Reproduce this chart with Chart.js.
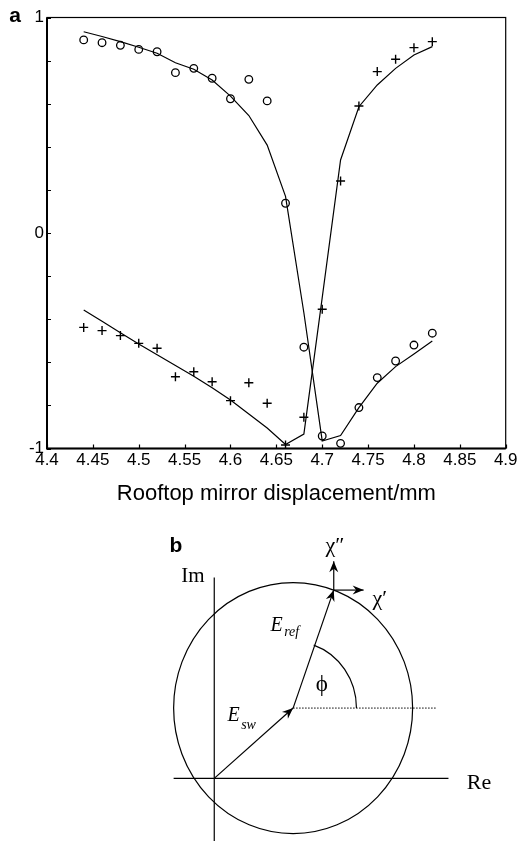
<!DOCTYPE html>
<html>
<head>
<meta charset="utf-8">
<script src="https://cdn.jsdelivr.net/npm/chart.js@4.4.1/dist/chart.umd.min.js"></script>
<style>
  html, body { margin: 0; padding: 0; background: #fff; }
  #wrap { position: relative; width: 521px; height: 841px; }
  #chartA { position: absolute; left: 0; top: 0; }
  #chartB { position: absolute; left: 0; top: 510px; }
</style>
</head>
<body>
<div id="wrap">
  <canvas id="chartA" width="521" height="510"></canvas>
  <canvas id="chartB" width="521" height="331"></canvas>
</div>
<script>
// ---- panel a data ----
const displacement = [4.44, 4.46, 4.48, 4.50, 4.52, 4.54, 4.56, 4.58, 4.60, 4.62,
                      4.64, 4.66, 4.68, 4.70, 4.72, 4.74, 4.76, 4.78, 4.80, 4.82];
const circleMeasured = [0.896, 0.883, 0.871, 0.852, 0.841, 0.744, 0.764, 0.718, 0.623, 0.713,
                        0.613, 0.138, -0.530, -0.942, -0.976, -0.810, -0.671, -0.594, -0.520, -0.465];
const plusMeasured = [-0.438, -0.453, -0.476, -0.512, -0.535, -0.667, -0.644, -0.690, -0.778, -0.695,
                      -0.790, -0.984, -0.855, -0.354, 0.241, 0.589, 0.749, 0.806, 0.860, 0.888];
const circleFit = [0.934, 0.912, 0.888, 0.862, 0.834, 0.790, 0.760, 0.710, 0.635, 0.545,
                   0.408, 0.170, -0.370, -0.965, -0.940, -0.810, -0.697, -0.620, -0.561, -0.501];
const plusFit = [-0.357, -0.410, -0.463, -0.515, -0.565, -0.615, -0.665, -0.718, -0.775, -0.840,
                 -0.905, -0.981, -0.933, -0.300, 0.339, 0.586, 0.687, 0.764, 0.826, 0.865];
const yLabelled = [-1, 0, 1];

// ---- panel b diagram (phasor units, |E_ref| = 1) ----
const origin = [0, 0];
const eSwTip = [0.66, 0.56];
const eRefTip = [1.0, 1.5];
const chiImTip = [1.0, 1.73];
const chiReTip = [1.25, 1.5];
const reAxis = [[-0.34, 0], [1.96, 0]];
const imAxis = [[0, 1.6], [0, -0.5]];
const phiGuideEnd = [1.86, 0.56];
const circleRadius = 1;
const phiArcRadius = 0.53;

const SANS = '"Liberation Sans", Arial, Helvetica, sans-serif';
const SERIF = '"Liberation Serif", "Times New Roman", "DejaVu Serif", serif';

const toPts = (xs, ys) => xs.map((x, i) => ({ x: x, y: ys[i] }));

// frame with inward ticks, like the scanned figure
const frameA = {
    id: 'frameA',
    afterDatasetsDraw(chart) {
        const { ctx, chartArea: a, scales: { x, y } } = chart;
        ctx.save();
        ctx.strokeStyle = '#000';
        ctx.lineWidth = 1.2;
        ctx.beginPath();
        x.ticks.forEach(t => {
            const px = Math.round(x.getPixelForValue(t.value)) + 0.5;
            ctx.moveTo(px, a.bottom);
            ctx.lineTo(px, a.bottom - 4);
        });
        y.ticks.forEach(t => {
            const py = Math.round(y.getPixelForValue(t.value)) + 0.5;
            ctx.moveTo(a.left, py);
            ctx.lineTo(a.left + 4, py);
        });
        ctx.stroke();
        ctx.lineWidth = 1.2;
        ctx.strokeRect(a.left, a.top, a.right - a.left, a.bottom - a.top);
        ctx.lineWidth = 2;
        ctx.beginPath();
        ctx.moveTo(a.left, a.top);
        ctx.lineTo(a.left, a.bottom);
        ctx.lineTo(a.right, a.bottom);
        ctx.stroke();
        ctx.fillStyle = '#000';
        ctx.font = 'bold 21px ' + SANS;
        ctx.textAlign = 'center';
        ctx.textBaseline = 'middle';
        ctx.fillText('a', 15, 16);
        ctx.restore();
    }
};

new Chart(document.getElementById('chartA'), {
    type: 'scatter',
    data: {
        datasets: [
            {
                data: toPts(displacement, circleMeasured),
                pointStyle: 'circle', pointRadius: 3.8, pointBorderWidth: 1.3,
                borderColor: '#000', backgroundColor: 'rgba(0,0,0,0)', showLine: false
            },
            {
                data: toPts(displacement, plusMeasured),
                pointStyle: 'cross', pointRadius: 4.5, pointBorderWidth: 1.4,
                borderColor: '#000', backgroundColor: '#000', showLine: false
            },
            {
                data: toPts(displacement, circleFit),
                showLine: true, pointRadius: 0, borderColor: '#000', borderWidth: 1.2, tension: 0
            },
            {
                data: toPts(displacement, plusFit),
                showLine: true, pointRadius: 0, borderColor: '#000', borderWidth: 1.2, tension: 0
            }
        ]
    },
    options: {
        responsive: false,
        animation: false,
        layout: { padding: { top: 17.5, right: 15.3, bottom: 0, left: 0 } },
        plugins: { legend: { display: false }, tooltip: { enabled: false } },
        scales: {
            x: {
                type: 'linear', min: 4.4, max: 4.9,
                grid: { display: false, drawTicks: false },
                border: { display: false },
                ticks: {
                    stepSize: 0.05, autoSkip: false, maxRotation: 0, padding: 2, color: '#000',
                    font: { family: SANS, size: 17 },
                    callback: v => String(Math.round(v * 100) / 100)
                },
                title: {
                    display: true, text: 'Rooftop mirror displacement/mm', color: '#000',
                    font: { family: SANS, size: 22 }, padding: { top: 0, bottom: 3 }
                },
                afterFit: scale => { scale.height = 61.5; }
            },
            y: {
                type: 'linear', min: -1, max: 1,
                grid: { display: false, drawTicks: false },
                border: { display: false },
                ticks: {
                    stepSize: 0.2, autoSkip: false, padding: 3, color: '#000',
                    font: { family: SANS, size: 17 },
                    callback: v => {
                        const r = Math.round(v);
                        return (Math.abs(v - r) < 1e-6 && yLabelled.includes(r)) ? String(r) : '';
                    }
                },
                afterFit: scale => { scale.width = 47; }
            }
        }
    },
    plugins: [frameA]
});

// ---- panel b ----
function arrowHead(ctx, fx, fy, tx, ty) {
    const ang = Math.atan2(ty - fy, tx - fx);
    const len = 11, half = 4.5, notch = 3.5;
    ctx.save();
    ctx.translate(tx, ty);
    ctx.rotate(ang);
    ctx.beginPath();
    ctx.moveTo(0, 0);
    ctx.lineTo(-len, -half);
    ctx.lineTo(-len + notch, 0);
    ctx.lineTo(-len, half);
    ctx.closePath();
    ctx.fill();
    ctx.restore();
}

const diagramB = {
    id: 'diagramB',
    beforeDatasetsDraw(chart) {
        const { ctx, scales: { x, y } } = chart;
        const cx = x.getPixelForValue(eSwTip[0]), cy = y.getPixelForValue(eSwTip[1]);
        const rx = x.getPixelForValue(eSwTip[0] + circleRadius) - cx;
        const ry = cy - y.getPixelForValue(eSwTip[1] + circleRadius);
        ctx.save();
        ctx.strokeStyle = '#000';
        ctx.lineWidth = 1.2;
        ctx.beginPath();
        ctx.ellipse(cx, cy, rx, ry, 0, 0, Math.PI * 2);
        ctx.stroke();
        const tx = x.getPixelForValue(eRefTip[0]), ty = y.getPixelForValue(eRefTip[1]);
        const theta = Math.atan2(cy - ty, tx - cx);
        ctx.beginPath();
        ctx.ellipse(cx, cy, rx * phiArcRadius, ry * phiArcRadius, 0, -theta, 0);
        ctx.stroke();
        ctx.restore();
    },
    afterDatasetsDraw(chart) {
        const { ctx, scales: { x, y } } = chart;
        const px = p => [x.getPixelForValue(p[0]), y.getPixelForValue(p[1])];
        ctx.save();
        ctx.fillStyle = '#000';
        [[origin, eSwTip], [eSwTip, eRefTip], [eRefTip, chiImTip], [eRefTip, chiReTip]].forEach(([a, b]) => {
            const [ax, ay] = px(a), [bx, by] = px(b);
            arrowHead(ctx, ax, ay, bx, by);
        });
        const text = (s, p, font, align) => {
            const [tx, ty] = px(p);
            ctx.font = font;
            ctx.textAlign = align || 'center';
            ctx.textBaseline = 'middle';
            ctx.fillText(s, tx, ty);
        };
        text('Im', [-0.178, 1.612], '21px ' + SERIF);
        text('Re', [2.215, -0.037], '22px ' + SERIF);
        text('\u03C7\u2033', [1.01, 1.85], '22px ' + SERIF);
        text('\u03C7\u2032', [1.385, 1.43], '22px ' + SERIF);
        text('\u03D5', [0.9, 0.745], '23px ' + SERIF);
        text('E', [0.47, 1.215], 'italic 20px ' + SERIF, 'left');
        text('ref', [0.585, 1.16], 'italic 14px ' + SERIF, 'left');
        text('E', [0.11, 0.5], 'italic 20px ' + SERIF, 'left');
        text('sw', [0.225, 0.42], 'italic 14px ' + SERIF, 'left');
        text('b', [-0.32, 1.851], 'bold 21px ' + SANS);
        ctx.restore();
    }
};

const seg = (pts, extra) => Object.assign({
    data: pts.map(p => ({ x: p[0], y: p[1] })),
    showLine: true, pointRadius: 0, borderColor: '#000', borderWidth: 1.2, clip: false
}, extra || {});

new Chart(document.getElementById('chartB'), {
    type: 'scatter',
    data: {
        datasets: [
            seg(reAxis),
            seg(imAxis),
            seg([origin, eSwTip]),
            seg([eSwTip, eRefTip]),
            seg([eRefTip, chiImTip]),
            seg([eRefTip, chiReTip]),
            seg([eSwTip, phiGuideEnd], { borderDash: [1.5, 1.5], borderWidth: 1 })
        ]
    },
    options: {
        responsive: false,
        animation: false,
        layout: { padding: 0 },
        plugins: { legend: { display: false }, tooltip: { enabled: false } },
        scales: {
            x: { type: 'linear', display: false, min: -1.793, max: 2.567 },
            y: { type: 'linear', display: false, min: -0.499, max: 2.138 }
        }
    },
    plugins: [diagramB]
});
</script>
</body>
</html>
